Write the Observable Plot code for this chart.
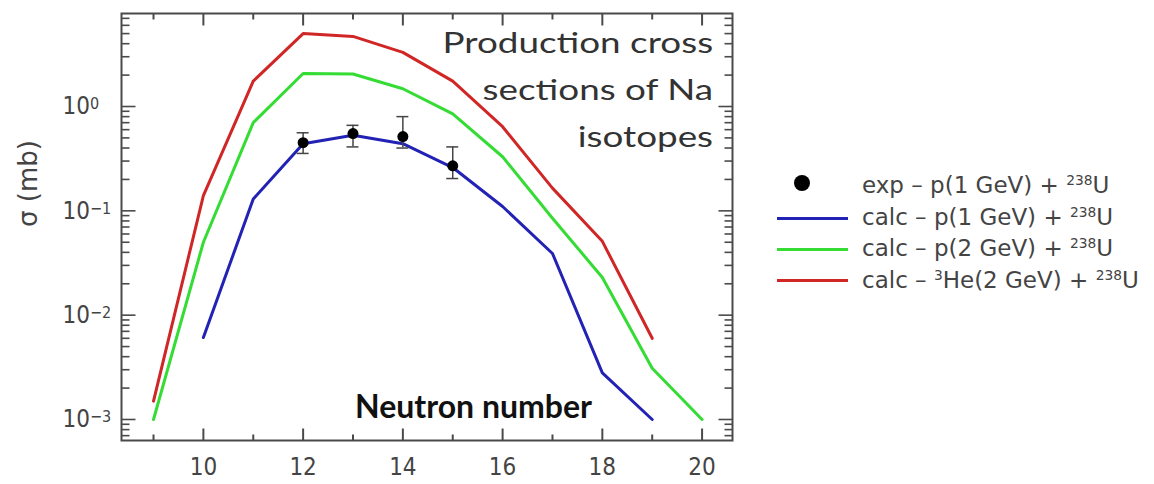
<!DOCTYPE html>
<html><head><meta charset="utf-8">
<script src="https://cdn.jsdelivr.net/npm/d3@7"></script>
<script src="https://cdn.jsdelivr.net/npm/@observablehq/plot@0.6"></script>
<style>
body{margin:0;background:#fff;}
#wrap{position:relative;width:1154px;height:484px;overflow:hidden;background:#fff;}
#wrap svg{position:absolute;left:0;top:0;}
.ttl{position:absolute;right:441px;top:18px;font-family:Lato,"Open Sans",sans-serif;font-size:29px;color:#333;text-align:right;line-height:47px;transform:scaleX(1.27);transform-origin:right top;white-space:nowrap;pointer-events:none;}
.xlab{position:absolute;left:355px;top:390px;font-family:Lato,sans-serif;font-weight:bold;font-size:32px;line-height:32px;color:#111;white-space:nowrap;}
.lg-row{position:absolute;left:862px;height:32px;line-height:32px;white-space:nowrap;font-family:"DejaVu Sans",sans-serif;font-size:23px;color:#444;}
.lg-row sup{font-size:0.6em;vertical-align:0.55em;line-height:0;}
.lg-sw{position:absolute;left:777px;width:71px;height:3px;}
.lg-dot{position:absolute;left:794px;width:16px;height:16px;border-radius:50%;background:#000;}
</style>
</head><body>
<div id="wrap"></div>
<script>
// ---- data ----
const xTickValues = [10, 12, 14, 16, 18, 20];
const yTickValues = [1e-3, 1e-2, 1e-1, 1];
const yTickBase = ["10", "10", "10", "10"];
const yTickExp = ["−3", "−2", "−1", "0"];

const nBlue = [10, 11, 12, 13, 14, 15, 16, 17, 18, 19];
const blueVals = [6.1e-3, 0.13, 0.44, 0.53, 0.44, 0.26, 0.11, 0.039, 2.8e-3, 1.0e-3];

const nGreen = [9, 10, 11, 12, 13, 14, 15, 16, 17, 18, 19, 20];
const greenVals = [1.0e-3, 0.05, 0.70, 2.07, 2.05, 1.48, 0.85, 0.33, 0.085, 0.023, 3.1e-3, 1.0e-3];

const nRed = [9, 10, 11, 12, 13, 14, 15, 16, 17, 18, 19];
const redVals = [1.5e-3, 0.14, 1.75, 5.0, 4.7, 3.3, 1.75, 0.64, 0.165, 0.051, 6.0e-3];

const nExp = [12, 13, 14, 15];
const expVals = [0.45, 0.55, 0.515, 0.27];
const expLo = [0.355, 0.41, 0.40, 0.204];
const expHi = [0.56, 0.66, 0.80, 0.41];

// ---- layout ----
const W = 1154, H = 484, mL = 121, mR = 422, mT = 13, mB = 44;
const RED = "#d02626", GREEN = "#34dc34", BLUE = "#2222b4", AX = "#4a4a4a";

const blue = nBlue.map((n, i) => ({n, v: blueVals[i]}));
const green = nGreen.map((n, i) => ({n, v: greenVals[i]}));
const red = nRed.map((n, i) => ({n, v: redVals[i]}));
const exp = nExp.map((n, i) => ({n, v: expVals[i], lo: expLo[i], hi: expHi[i]}));

const yDomain = [6.29e-4, 7.79];
const xDomain = [8.358, 20.61];
const xs = Plot.scale({x: {type: "linear", domain: xDomain, range: [mL, W - mR]}});
const ys = Plot.scale({y: {type: "log", domain: yDomain, range: [H - mB, mT]}});

const xAll = d3.range(9, 21);
const yAll = d3.scaleLog().domain(yDomain).ticks();
const isDecade = d => Math.abs(Math.log10(d) - Math.round(Math.log10(d))) < 1e-9;
const cap = 0.12;

// inward tick marks; both ends go through the library's own scales
const xTickRows = [];
for (const v of xAll) {
  const len = v % 2 === 0 ? 12 : 6;
  xTickRows.push({x: v, y1: yDomain[0], y2: ys.invert(H - mB - len)});
  xTickRows.push({x: v, y1: yDomain[1], y2: ys.invert(mT + len)});
}
const yTickRows = [];
for (const v of yAll) {
  const len = isDecade(v) ? 14 : 8;
  yTickRows.push({y: v, x1: xDomain[0], x2: xs.invert(mL + len)});
  yTickRows.push({y: v, x1: xDomain[1], x2: xs.invert(W - mR - len)});
}

const chart = Plot.plot({
  width: W, height: H,
  marginLeft: mL, marginRight: mR, marginTop: mT, marginBottom: mB,
  style: {color: "#444"},
  x: {type: "linear", domain: xDomain},
  y: {type: "log", domain: yDomain},
  marks: [
    Plot.axisX({ticks: xTickValues, tickSize: 0, tickPadding: 17, fontSize: 24,
      fontFamily: "'Liberation Sans Narrow','DejaVu Sans Condensed',sans-serif", label: null}),
    Plot.axisY({ticks: yTickValues, tickSize: 0, tickPadding: 59, textAnchor: "start", fontSize: 24,
      fontFamily: "'Liberation Sans Narrow','DejaVu Sans Condensed',sans-serif",
      tickFormat: d => yTickBase[yTickValues.indexOf(d)] + "^" + yTickExp[yTickValues.indexOf(d)], label: null}),
    Plot.text(["σ (mb)"], {frameAnchor: "left", dx: -93, dy: 0, rotate: -90, fontSize: 26,
      fontFamily: "'DejaVu Sans',sans-serif", fill: "#444", text: d => d}),
    Plot.line(red, {x: "n", y: "v", stroke: RED, strokeWidth: 3}),
    Plot.line(green, {x: "n", y: "v", stroke: GREEN, strokeWidth: 3}),
    Plot.line(blue, {x: "n", y: "v", stroke: BLUE, strokeWidth: 3}),
    Plot.ruleX(exp, {x: "n", y1: "lo", y2: "hi", stroke: "#444", strokeWidth: 1.5}),
    Plot.ruleY(exp, {y: "hi", x1: d => d.n - cap, x2: d => d.n + cap, stroke: "#444", strokeWidth: 1.5}),
    Plot.ruleY(exp, {y: "lo", x1: d => d.n - cap, x2: d => d.n + cap, stroke: "#444", strokeWidth: 1.5}),
    Plot.dot(exp, {x: "n", y: "v", r: 5.5, fill: "#000"}),
    Plot.frame({stroke: AX, strokeWidth: 2, fill: "none"}),
    Plot.link(xTickRows, {x1: "x", x2: "x", y1: "y1", y2: "y2", stroke: AX, strokeWidth: 2}),
    Plot.link(yTickRows, {y1: "y", y2: "y", x1: "x1", x2: "x2", stroke: AX, strokeWidth: 1.6})
  ]
});

d3.select(chart).selectAll('g[aria-label="y-axis tick label"] text').each(function() {
  const t = d3.select(this);
  const parts = t.text().split("^");
  t.text(null);
  t.append("tspan").text(parts[0]);
  t.append("tspan").attr("dy", "-0.3em").attr("font-size", "16").text(parts[1]);
});

const wrap = document.getElementById("wrap");
wrap.appendChild(chart);

const title = document.createElement("div");
title.className = "ttl";
title.innerHTML = "Production cross<br>sections of Na<br>isotopes";
wrap.appendChild(title);

const xl = document.createElement("div");
xl.className = "xlab";
xl.textContent = "Neutron number";
wrap.appendChild(xl);

const legHTML = `
<div class="lg-dot" style="top:175px"></div>
<div class="lg-sw" style="top:216.5px;background:${BLUE}"></div>
<div class="lg-sw" style="top:247.5px;background:${GREEN}"></div>
<div class="lg-sw" style="top:278.5px;background:${RED}"></div>
<div class="lg-row" style="top:169px">exp – p(1 GeV) + <sup>238</sup>U</div>
<div class="lg-row" style="top:201px">calc – p(1 GeV) + <sup>238</sup>U</div>
<div class="lg-row" style="top:232px">calc – p(2 GeV) + <sup>238</sup>U</div>
<div class="lg-row" style="top:264px">calc – <sup>3</sup>He(2 GeV) + <sup>238</sup>U</div>`;
wrap.insertAdjacentHTML("beforeend", legHTML);
</script>
</body></html>
